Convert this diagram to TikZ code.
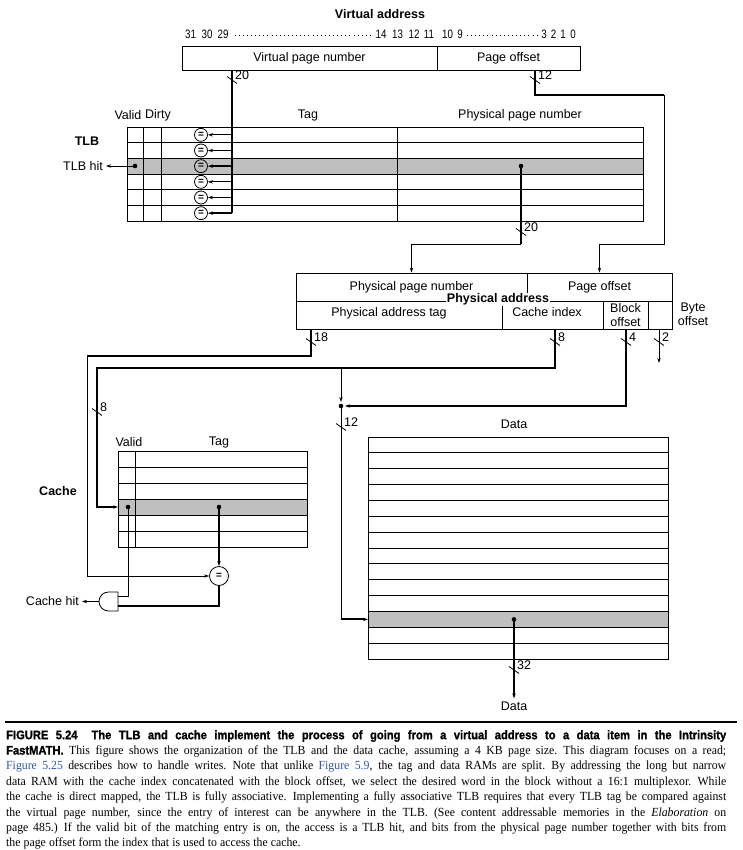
\documentclass[tikz,border=0pt]{standalone}
\usepackage{fontspec}
\setmainfont{Liberation Serif}
\setsansfont{Liberation Sans}
\newfontfamily\headfont[FakeStretch=0.9,FakeBold=1.2]{Liberation Sans}
\newfontfamily\capfont[FakeStretch=0.95]{Liberation Serif}
\newfontfamily\bitfont[FakeStretch=0.8]{Liberation Sans}
\usetikzlibrary{calc,arrows.meta}
\definecolor{rowgray}{RGB}{191,191,191}
\definecolor{figblue}{RGB}{48,84,170}
\tikzset{
	lbl/.style={font=\sffamily\fontsize{12.5}{14}\selectfont, inner sep=0pt},
	blbl/.style={font=\sffamily\bfseries\fontsize{12.5}{14}\selectfont, inner sep=0pt},
	bitlbl/.style={font=\bitfont\fontsize{12.2}{13}\selectfont, inner sep=0pt},
	wire/.style={line width=0.8pt},
	bus/.style={line width=1.9pt},
	tip/.style={-{Stealth[length=5pt,width=3.4pt]}},
	field/.style={draw, line width=0.8pt, inner sep=0pt, font=\sffamily\fontsize{12.5}{14}\selectfont},
	eqc/.style={draw, circle, line width=0.8pt, inner sep=0pt, minimum size=13pt, font=\sffamily\bfseries\fontsize{10}{10}\selectfont},
	jdot/.style={circle, fill, inner sep=0pt, minimum size=4.6pt},
	dots/.style={dash pattern=on 0.9pt off 3.2pt, line width=0.9pt},
}
\def\busmark(#1)[#2]{\draw[wire] ($(#1)+(-5,-3.5)$) -- ($(#1)+(5,3.5)$); \node[lbl, anchor=west] at ($(#1)+(3,-5)$) {#2};}
\def\capline#1{\makebox[720pt][s]{#1}}

\begin{document}
\begin{tikzpicture}[x=1pt,y=-1pt]
		%%%%% START %%%%%
		\useasboundingbox (0,0) rectangle (743,850);
		
		% virtual address
		\node[blbl] (vatitle) at (380,14) {Virtual address};
		\foreach \x/\b in {190.5/31,207/30,223/29,381/14,397.5/13,414/12,429/11,447.5/10,460/9,544/3,553.5/2,563/1,573/0}
			\node[bitlbl] (bit\b) at (\x,34) {\b};
		\draw[dots] ([xshift=6pt]bit29.east |- 0,35) -- ([xshift=-4pt]bit14.west |- 0,35);
		\draw[dots] ([xshift=4pt]bit9.east |- 0,35) -- ([xshift=-4pt]bit3.west |- 0,35);
		\node[field, minimum width=255pt, minimum height=24pt] (vpn) at (309.5,58) {Virtual page number};
		\node[field, minimum width=143pt, minimum height=24pt] (voff) at (508.5,58) {Page offset};
		\coordinate (vpnout) at (232,70);
		\coordinate (voffout) at (535,70);
		
		% TLB
		\node[lbl] (hvalid) at (128,115) {Valid};
		\node[lbl] (hdirty) at (158,115) {Dirty};
		\node[lbl] (htag) at (308,115) {Tag};
		\node[lbl] (hppn) at (520,115) {Physical page number};
		\node[blbl] (tlbname) at (87,141) {TLB};
		\fill[rowgray] (127,158.33) rectangle (643,174);
		\foreach \i in {1,...,5}
			\draw[wire] (127,{127+\i*15.667}) -- (643,{127+\i*15.667});
		\foreach \x in {143,161,397}
			\draw[wire] (\x,127) -- (\x,221);
		\draw[wire] (127,127) rectangle (643,221);
		\foreach \i in {1,...,6}
			\node[eqc] (eq\i) at (201,{127+(\i-0.5)*15.667}) {=};
		\node[jdot] (tlbdot) at (135,166) {};
		\node[jdot] (ppndot) at (521,166) {};
		\node[lbl, anchor=east] (tlbhit) at (103,166) {TLB hit};
		\draw[wire,tip] (tlbdot.center) -- ([xshift=3pt]tlbhit.east);
		
		\draw[bus] (vpnout) -- (vpnout |- eq6.east);
		\foreach \i/\w in {1/wire,2/bus,3/bus,4/wire,5/wire,6/bus}
			\draw[\w,tip] (eq\i.east -| vpnout) -- (eq\i.east);
		\busmark(232,80)[20];
		
		% physical address
		\node[field, minimum width=231pt, minimum height=28pt] (pppn) at (411.5,287) {Physical page number};
		\node[field, minimum width=145pt, minimum height=28pt] (paoff) at (599.5,287) {Page offset};
		\node[field, minimum width=206pt, minimum height=28pt] (ptag) at (399,315) {};
		\node[field, minimum width=101pt, minimum height=28pt] (pidx) at (552.5,315) {};
		\node[field, minimum width=45pt, minimum height=28pt, align=center] (pblk) at (625.5,315) {Block\\offset};
		\node[field, minimum width=24pt, minimum height=28pt] (pbyte) at (660,315) {};
		\node[lbl] (ptagtxt) at (389,313) {Physical address tag};
		\node[lbl] (pidxtxt) at (547,312) {Cache index};
		\node[lbl, align=center] (pbytetxt) at (693,314) {Byte\\offset};
		\node[blbl, fill=white, inner sep=1pt] (patitle) at (498,299.5) {Physical address};
		
		% TLB -> physical address
		\draw[bus] (ppndot.center) -- (521,244);
		\draw[wire,tip] (521,244) -| (pppn.north);
		\busmark(521,232)[20];
		\draw[bus] (voffout) |- (664,95);
		\draw[wire] (664,95) |- (paoff.north |- 0,244);
		\draw[bus,tip] (paoff.north |- 0,244) -- (paoff.north);
		\busmark(535,80)[12];
		
		% cache
		\node[lbl] (cvalid) at (129,442) {Valid};
		\node[lbl] (ctag) at (219,442) {Tag};
		\node[blbl] (cachename) at (58,491) {Cache};
		\fill[rowgray] (118,499) rectangle (307,515);
		\foreach \i in {1,...,5}
			\draw[wire] (118,{451+\i*16}) -- (307,{451+\i*16});
		\draw[wire] (135,451) -- (135,547);
		\draw[wire] (118,451) rectangle (307,547);
		\node[jdot] (cvaldot) at (128,507) {};
		\node[jdot] (ctagdot) at (219,507) {};
		\coordinate (crow) at (118,507);
		\node[eqc, minimum size=19pt] (cmp) at (219,576) {=};
		\draw[wire] (118,592) -- (108.5,592) arc (270:90:9.5) -- (118,611) -- cycle;
		\coordinate (andin1) at (118,596);
		\coordinate (andin2) at (118,606);
		\coordinate (andout) at (99,601.5);
		\node[lbl, anchor=east] (chit) at (79,601.5) {Cache hit};
		\draw[wire,tip] (andout) -- ([xshift=3pt]chit.east);
		\draw[bus,tip] (ctagdot.center) -- (cmp.north);
		\draw[bus] (cmp.south) |- (andin2);
		\draw[wire] (cvaldot.center) |- (andin1);
		
		% data
		\node[lbl] (dtitle) at (514,424) {Data};
		\fill[rowgray] (368,611.43) rectangle (668,627.29);
		\foreach \i in {1,...,13}
			\draw[wire] (368,{437+\i*15.857}) -- (668,{437+\i*15.857});
		\draw[wire] (368,437) rectangle (668,659);
		\node[jdot] (ddot) at (514,619.4) {};
		\coordinate (drow) at (368,619.4);
		\node[lbl] (dout) at (514,706) {Data};
		\draw[bus,tip] (ddot.center) -- ([yshift=3pt]dout.north);
		\busmark(514,670)[32];
		
		% physical address -> cache and data
		\coordinate (tagout) at (311,329);
		\coordinate (idxout) at (555,329);
		\coordinate (blkout) at (626,329);
		\coordinate (byteout) at (659,329);
		\node[jdot] (jn) at (341,406) {};
		\draw[bus] (tagout) |- (87,356);
		\draw[wire,tip] (87,356) |- (cmp.west);
		\busmark(311,342)[18];
		\draw[bus,tip] (idxout) |- (97,368) |- (crow);
		\busmark(555,342)[8];
		\busmark(97,412)[8];
		\draw[wire,tip,shorten >=1.5pt] (jn |- 0,368) -- (jn);
		\draw[bus,tip,shorten >=1.5pt] (blkout) |- (jn);
		\busmark(626,342)[4];
		\draw[wire,tip] (byteout) -- (659,363);
		\busmark(659,342)[2];
		\draw[wire] (jn.center) -- (jn |- drow);
		\draw[bus,tip] (jn |- drow) -- (drow);
		\busmark(341,427)[12];
		
		% caption
		\draw[line width=1.2pt] (5,722) -- (737,722);
		\node[anchor=north west, inner sep=0pt, text width=720pt, align=left, font=\capfont\fontsize{12.4}{15.4}\selectfont] (caption) at (6,730) {\spaceskip=0.25em plus 1em minus 0.03em\relax
\capline{\headfont\bfseries\spaceskip=0.25em plus 2em\relax FIGURE 5.24\hspace{14pt}The TLB and cache implement the process of going from a virtual address to a data item in the Intrinsity}\\
\capline{{\headfont\bfseries FastMATH.} This figure shows the organization of the TLB and the data cache, assuming a 4 KB page size. This diagram focuses on a read;}\\
\capline{\textcolor{figblue}{Figure 5.25} describes how to handle writes. Note that unlike \textcolor{figblue}{Figure 5.9}, the tag and data RAMs are split. By addressing the long but narrow}\\
\capline{data RAM with the cache index concatenated with the block offset, we select the desired word in the block without a 16:1 multiplexor. While}\\
\capline{the cache is direct mapped, the TLB is fully associative. Implementing a fully associative TLB requires that every TLB tag be compared against}\\
\capline{the virtual page number, since the entry of interest can be anywhere in the TLB. (See content addressable memories in the \emph{Elaboration} on}\\
\capline{page 485.) If the valid bit of the matching entry is on, the access is a TLB hit, and bits from the physical page number together with bits from}\\
the page offset form the index that is used to access the cache.};
		%%%%% END %%%%%
\end{tikzpicture}
\end{document}
